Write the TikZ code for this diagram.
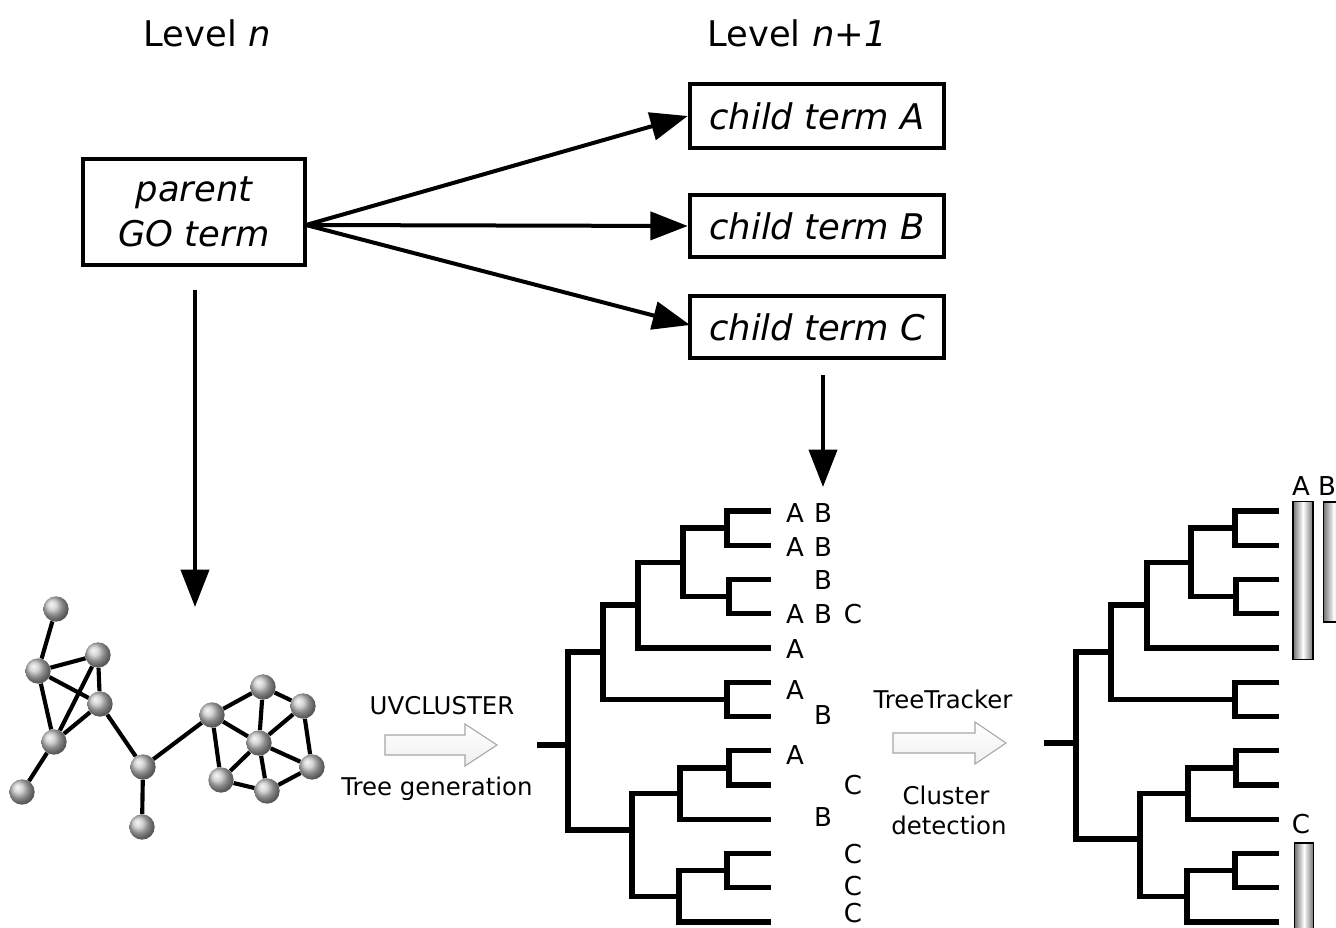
\documentclass[tikz,border=0pt]{standalone}
\usepackage{fontspec}
\setmainfont{DejaVu Sans}
\usetikzlibrary{arrows.meta}
\begin{document}
\begin{tikzpicture}[x=0.75pt,y=-0.75pt,
  big/.style={font=\fontsize{26.5}{34}\selectfont, inner sep=0pt},
  mid/.style={font=\fontsize{18.3}{22}\selectfont, inner sep=0pt},
  lbl/.style={font=\fontsize{19.5}{22}\selectfont, inner sep=0pt},
  termbox/.style={draw, line width=2.9pt, inner sep=0pt, align=center, font=\fontsize{26.5}{34}\selectfont\itshape},
  conn/.style={line width=3pt, -{Triangle[length=28pt,width=21pt]}},
  tree/.style={line width=3.9pt, line join=miter},
  ball/.style={circle, shading=ball, ball color=gray!45, minimum size=19pt, inner sep=0pt},
  netedge/.style={line width=3.1pt},
  bar/.style={draw=black, line width=0.9pt, left color=gray!90!black, right color=gray!90!black, middle color=white},
  blockarrow/.style={draw=gray!70, line width=0.8pt, top color=white, bottom color=gray!12}
]
\useasboundingbox (0,0) rectangle (1336,928);
\clip (0,0) rectangle (1336,928);

% headings
\node[big] (lvn) at (207,33) {Level \textit{n}};
\node[big] (lvn1) at (797,33) {Level \textit{n+1}};

% term boxes
\node[termbox, minimum width=166pt, minimum height=79pt] (parent) at (194,212) {parent\\GO term};
\node[termbox, minimum width=191pt, minimum height=48pt] (ca) at (817,116) {child term A};
\node[termbox, minimum width=191pt, minimum height=47pt] (cb) at (817,226) {child term B};
\node[termbox, minimum width=191pt, minimum height=47pt] (cc) at (817,327) {child term C};

\coordinate (src) at (306,225);
\draw[conn] (src) -- (ca.west);
\draw[conn] (src) -- (cb.west);
\draw[conn] (src) -- (690,325);

\coordinate (pdownA) at (195,290);
\coordinate (pdownB) at (195,607);
\draw[conn] (pdownA) -- (pdownB);
\coordinate (cdownA) at (823,375);
\coordinate (cdownB) at (823,487);
\draw[conn] (cdownA) -- (cdownB);

% network
\node[ball] (n1) at (56,609) {};
\node[ball] (n2) at (38,671) {};
\node[ball] (n3) at (98,655) {};
\node[ball] (n4) at (100,704) {};
\node[ball] (n5) at (54,742) {};
\node[ball] (n6) at (22,792) {};
\node[ball] (n7) at (143,767) {};
\node[ball] (n8) at (142,827) {};
\node[ball] (n9) at (212,715) {};
\node[ball] (n10) at (263,687) {};
\node[ball] (n11) at (303,706) {};
\node[ball] (n12) at (259,743) {};
\node[ball] (n13) at (312,767) {};
\node[ball] (n14) at (267,791) {};
\node[ball] (n15) at (221,780) {};
\foreach \a/\b in {n1/n2,n2/n3,n2/n4,n2/n5,n3/n4,n3/n5,n4/n5,n5/n6,n4/n7,n7/n8,n7/n9,
  n9/n10,n9/n12,n9/n15,n10/n11,n10/n12,n11/n12,n11/n13,n12/n13,n12/n14,n12/n15,n15/n14,n14/n13}
  \draw[netedge] (\a) -- (\b);

% block arrows
\draw[blockarrow] (385,735) -- (465,735) -- (465,724) -- (497,745) -- (465,766) -- (465,755) -- (385,755) -- cycle;
\draw[blockarrow] (893,733) -- (975,733) -- (975,722) -- (1006,743) -- (975,764) -- (975,753) -- (893,753) -- cycle;
\node[mid] (uv) at (442,706) {UVCLUSTER};
\node[mid] (tg) at (437,789) {Tree generation};
\node[mid] (tt) at (943,699) {TreeTracker};
\node[mid] (cl) at (946,795) {Cluster};
\node[mid] (cd) at (949,825) {detection};

% tree 1
\draw[tree] (771,511) -| (727,545.3) -- (771,545.3);
\draw[tree] (771,579.5) -| (729,613.8) -- (771,613.8);
\draw[tree] (727,528) -| (683,596.6) -- (729,596.6);
\draw[tree] (683,562.3) -| (638,648) -- (771,648);
\draw[tree] (771,682.3) -| (727,716.5) -- (771,716.5);
\draw[tree] (638,605) -| (603,699.4) -- (727,699.4);
\draw[tree] (771,750.8) -| (729,785) -- (771,785);
\draw[tree] (729,768) -| (680,819.3) -- (771,819.3);
\draw[tree] (771,853.5) -| (727,887.8) -- (771,887.8);
\draw[tree] (727,870.6) -| (679,922) -- (771,922);
\draw[tree] (680,793.6) -| (632,896.3) -- (679,896.3);
\draw[tree] (603,652) -| (568,830) -- (632,830);
\draw[tree] (537,745) -- (568,745);

% tree 1 labels
\node[lbl] (t1a1) at (795,513) {A}; \node[lbl] (t1b1) at (823,513) {B};
\node[lbl] (t1a2) at (795,547) {A}; \node[lbl] (t1b2) at (823,547) {B};
\node[lbl] (t1b3) at (823,580) {B};
\node[lbl] (t1a4) at (795,614) {A}; \node[lbl] (t1b4) at (823,614) {B}; \node[lbl] (t1c4) at (853,614) {C};
\node[lbl] (t1a5) at (795,649) {A};
\node[lbl] (t1a6) at (795,690) {A};
\node[lbl] (t1b7) at (823,715) {B};
\node[lbl] (t1a8) at (795,755) {A};
\node[lbl] (t1c9) at (853,785) {C};
\node[lbl] (t1b10) at (823,817) {B};
\node[lbl] (t1c11) at (853,854) {C};
\node[lbl] (t1c12) at (853,886) {C};
\node[lbl] (t1c13) at (853,913) {C};

% tree 2
\draw[tree] (1279,511) -| (1235,545.3) -- (1279,545.3);
\draw[tree] (1279,579.5) -| (1236,613.8) -- (1279,613.8);
\draw[tree] (1235,528) -| (1191,596.6) -- (1236,596.6);
\draw[tree] (1191,562.3) -| (1147,648) -- (1279,648);
\draw[tree] (1279,682.3) -| (1235,716.5) -- (1279,716.5);
\draw[tree] (1147,605) -| (1111,699.4) -- (1235,699.4);
\draw[tree] (1279,750.8) -| (1236,785) -- (1279,785);
\draw[tree] (1236,768) -| (1188,819.3) -- (1279,819.3);
\draw[tree] (1279,853.5) -| (1235,887.8) -- (1279,887.8);
\draw[tree] (1235,870.6) -| (1187,922) -- (1279,922);
\draw[tree] (1188,793.6) -| (1140,896.3) -- (1187,896.3);
\draw[tree] (1111,652) -| (1076,839) -- (1140,839);
\draw[tree] (1044,743) -- (1076,743);

% bars
\node[bar, minimum width=15pt, minimum height=118pt, inner sep=0pt] (barA) at (1303,580.5) {};
\node[bar, minimum width=16pt, minimum height=90pt, inner sep=0pt] (barB) at (1334,562) {};
\node[bar, minimum width=14pt, minimum height=75pt, inner sep=0pt] (barC) at (1304,893) {};
\node[lbl] (t2a) at (1301,486) {A};
\node[lbl] (t2b) at (1327,486) {B};
\node[lbl] (t2c) at (1301,824) {C};
\end{tikzpicture}
\end{document}
